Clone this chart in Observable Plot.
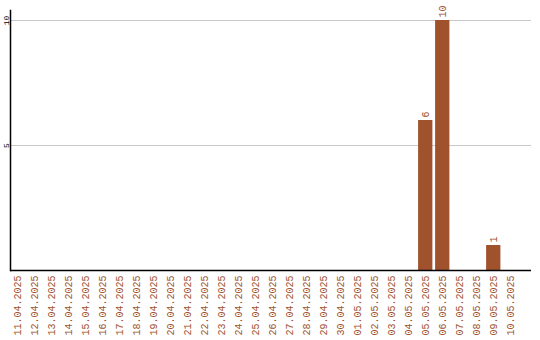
<!DOCTYPE html>
<html>
<head>
<meta charset="utf-8">
<script src="https://cdn.jsdelivr.net/npm/d3@7"></script>
<script src="https://cdn.jsdelivr.net/npm/@observablehq/plot@0.6"></script>
<style>
  html, body { margin: 0; padding: 0; background: #fff; }
  #chart svg { display: block; }
</style>
</head>
<body>
<div id="chart"></div>
<script>
// Daily counts, one entry per day
const dates = [
  "11.04.2025", "12.04.2025", "13.04.2025", "14.04.2025", "15.04.2025",
  "16.04.2025", "17.04.2025", "18.04.2025", "19.04.2025", "20.04.2025",
  "21.04.2025", "22.04.2025", "23.04.2025", "24.04.2025", "25.04.2025",
  "26.04.2025", "27.04.2025", "28.04.2025", "29.04.2025", "30.04.2025",
  "01.05.2025", "02.05.2025", "03.05.2025", "04.05.2025", "05.05.2025",
  "06.05.2025", "07.05.2025", "08.05.2025", "09.05.2025", "10.05.2025"
];
const counts = [
  0, 0, 0, 0, 0, 0, 0, 0, 0, 0,
  0, 0, 0, 0, 0, 0, 0, 0, 0, 0,
  0, 0, 0, 0, 6, 10, 0, 0, 1, 0
];
const yTicks = [5, 10];

const rows = dates.map((date, i) => ({date, count: counts[i]}));
const labelled = rows.filter(d => d.count > 0);

const brown = "#a0522d";
const mono = "'Liberation Mono', 'DejaVu Sans Mono', monospace";

const chart = Plot.plot({
  width: 540,
  height: 340,
  marginLeft: 10,
  marginRight: 9,
  marginTop: 10,
  marginBottom: 70,
  style: {fontFamily: mono, background: "#fff", overflow: "visible"},
  x: {domain: dates, paddingInner: 0.16, paddingOuter: 0.4, align: 0, round: false, axis: null},
  y: {domain: [0, 10.4], axis: null},
  marks: [
    Plot.gridY(yTicks, {stroke: "#c8c8c8", strokeOpacity: 1}),
    Plot.barY(rows, {x: "date", y: "count", fill: brown}),
    Plot.ruleY([0], {stroke: "#000", strokeWidth: 1.5}),
    Plot.frame({anchor: "left", stroke: "#000", strokeWidth: 1.5}),
    // y tick labels, rotated, left of the axis line
    Plot.text(yTicks, {
      y: d => d, text: d => String(d), frameAnchor: "left", dx: -2,
      rotate: -90, textAnchor: "middle", lineAnchor: "bottom",
      fontSize: 8, fill: "#000"
    }),
    // date labels under each band
    Plot.text(dates, {
      x: d => d, text: d => d, frameAnchor: "bottom", dy: 5,
      rotate: -90, textAnchor: "end", lineAnchor: "middle",
      fontSize: 10, fill: brown
    }),
    // value labels above non-empty bars
    Plot.text(labelled, {
      x: "date", y: "count", text: d => String(d.count), dy: -3,
      rotate: -90, textAnchor: "start", lineAnchor: "middle",
      fontSize: 10, fill: brown
    })
  ]
});

document.getElementById("chart").appendChild(chart);
</script>
</body>
</html>
